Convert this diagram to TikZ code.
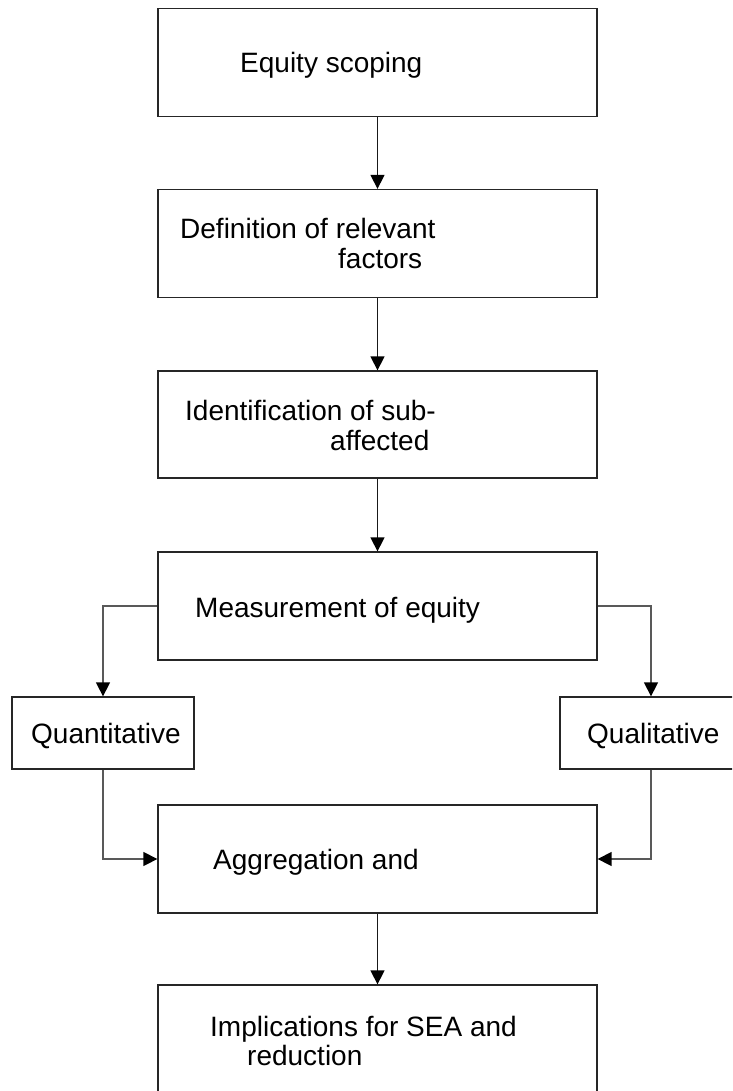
\documentclass[tikz,border=0pt]{standalone}
\usepackage{fontspec}
\setmainfont{Liberation Sans}
\usetikzlibrary{arrows.meta}
\begin{document}
\begin{tikzpicture}[x=1pt,y=-1pt,
  stagebox/.style={draw=black!85,line width=1.3pt,minimum width=439pt,minimum height=108pt,inner sep=0pt},
  sidebox/.style={draw=black!85,line width=1.3pt,minimum width=182pt,minimum height=72pt,inner sep=0pt},
  lbl/.style={anchor=base west,inner sep=0pt,font=\fontsize{28}{30}\selectfont},
  flow/.style={draw=black!90,line width=1.4pt,-{Triangle[width=14pt,length=14pt,color=black]}},
  branch/.style={flow,draw=black!65}]
\useasboundingbox (0,0) rectangle (732,1091);
\fill[white] (0,0) rectangle (732,1091);
\clip (0,0) rectangle (732,1091);

% main column of stages
\node[stagebox] (scope) at (377.5,62.5) {};
\node[stagebox] (factors) at (377.5,243.5) {};
\node[stagebox,minimum height=107pt] (groups) at (377.5,424.5) {};
\node[stagebox] (measure) at (377.5,606) {};
\node[stagebox] (aggr) at (377.5,859) {};
\node[stagebox] (impl) at (377.5,1039) {};

% two ways of measuring
\node[sidebox] (quant) at (103,733) {};
\node[sidebox] (qual) at (651,733) {};

% texts
\node[lbl] (t1) at (240,73) {Equity scoping};
\node[lbl] (t2a) at (180,239) {Definition of relevant};
\node[lbl] (t2b) at (338,269) {factors};
\node[lbl] (t3a) at (185,420) {Identification of sub-};
\node[lbl] (t3b) at (330,450) {affected};
\node[lbl] (t4) at (195,617) {Measurement of equity};
\node[lbl] (t5) at (31,743) {Quantitative};
\node[lbl] (t6) at (587,743) {Qualitative};
\node[lbl] (t7) at (213,869) {Aggregation and};
\node[lbl] (t8a) at (210,1036) {Implications for SEA and};
\node[lbl] (t8b) at (247,1065) {reduction};

% connectors
\draw[flow] (scope.south) -- (factors.north);
\draw[flow] (factors.south) -- (groups.north);
\draw[flow] (groups.south) -- (measure.north);
\draw[branch] (measure.west) -| (quant.north);
\draw[branch] (measure.east) -| (qual.north);
\draw[branch] (quant.south) |- (aggr.west);
\draw[branch] (qual.south) |- (aggr.east);
\draw[flow] (aggr.south) -- (impl.north);
\end{tikzpicture}
\end{document}
